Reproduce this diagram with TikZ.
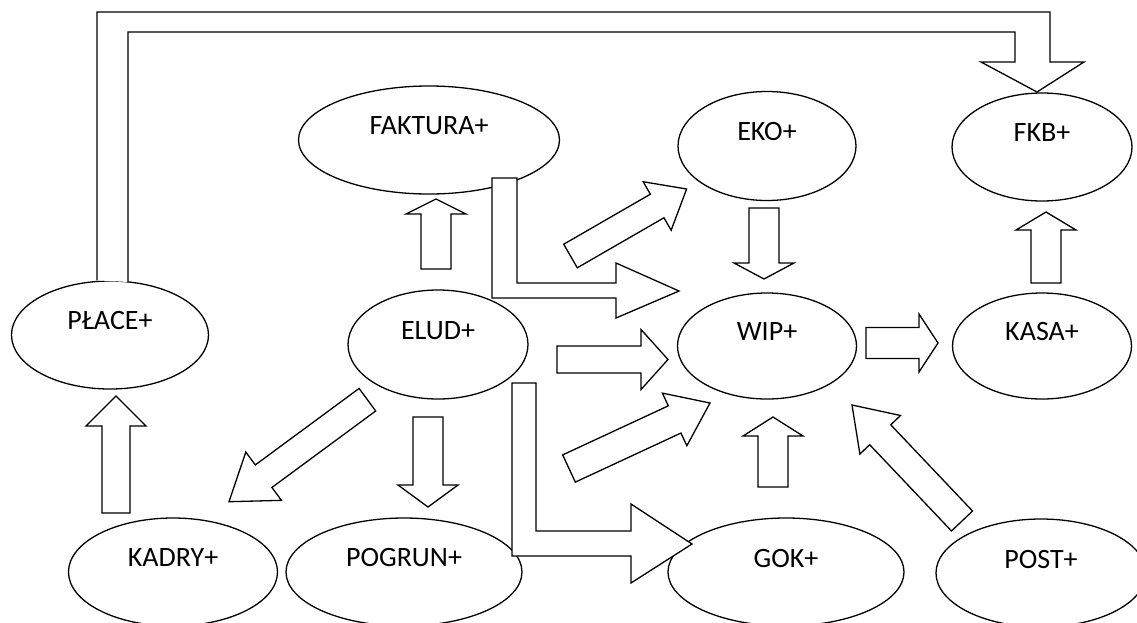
\documentclass[tikz,border=0pt]{standalone}
\usepackage{fontspec}
\setmainfont{Carlito}
\usetikzlibrary{calc,shapes.geometric}

% block arrow: tail, tip, half shaft width, half head width, head length
\newcommand{\blockarrow}[5]{%
  \coordinate (ba-j) at ($(#2)!#5pt!(#1)$);
  \draw[barrow] ($(#1)!#3pt!90:(#2)$) -- ($(ba-j)!#3pt!90:(#2)$)
    -- ($(ba-j)!#4pt!90:(#2)$) -- (#2) -- ($(ba-j)!#4pt!-90:(#2)$)
    -- ($(ba-j)!#3pt!-90:(#2)$) -- ($(#1)!#3pt!-90:(#2)$) -- cycle;
}

\begin{document}
\begin{tikzpicture}[x=1pt,y=-1pt]
	\tikzset{
		oval/.style={ellipse, draw=black, line width=1.3pt, fill=white, inner sep=0pt},
		lbl/.style={font=\fontsize{28}{32}\selectfont, yshift=14pt, inner sep=0pt},
		barrow/.style={draw=black, line width=1.3pt, fill=white, line join=miter}
	}
	\useasboundingbox (0,0) rectangle (1137,622);
	\clip (0,0) rectangle (1137,622);
	
	% ======= Modules =======
	\node[oval, minimum width=261, minimum height=108, label={[lbl]center:FAKTURA+}] (fak) at (429,140) {};
	\node[oval, minimum width=178, minimum height=109, label={[lbl]center:EKO+}] (eko) at (767,146) {};
	\node[oval, minimum width=180, minimum height=108, label={[lbl]center:FKB+}] (fkb) at (1042,147) {};
	\node[oval, minimum width=197, minimum height=108, label={[lbl]center:PŁACE+}] (plc) at (110,335) {};
	\node[oval, minimum width=180, minimum height=109, label={[lbl]center:ELUD+}] (elud) at (438,344.5) {};
	\node[oval, minimum width=179, minimum height=106, label={[lbl]center:WIP+}] (wip) at (767,346) {};
	\node[oval, minimum width=179, minimum height=106, label={[lbl]center:KASA+}] (kasa) at (1042,346) {};
	\node[oval, minimum width=209, minimum height=108, label={[lbl]center:KADRY+}] (kadry) at (173,572) {};
	\node[oval, minimum width=236, minimum height=108, label={[lbl]center:POGRUN+}] (pogrun) at (404,572) {};
	\node[oval, minimum width=236, minimum height=108, label={[lbl]center:GOK+}] (gok) at (786,572) {};
	\node[oval, minimum width=210, minimum height=108, label={[lbl]center:POST+}] (post) at (1041,573) {};
	
	% ======= Arrow ends =======
	\coordinate (s1) at (436,269);    \coordinate (e1) at (436,199);
	\coordinate (s2) at (764,208);    \coordinate (e2) at (764,279);
	\coordinate (s3) at (1046,283);   \coordinate (e3) at (1046,212);
	\coordinate (s4) at (773,487);    \coordinate (e4) at (773,417);
	\coordinate (s5) at (428,417);    \coordinate (e5) at (428,507);
	\coordinate (s6) at (116,513);    \coordinate (e6) at (116,396);
	\coordinate (s7) at (557,359.5);  \coordinate (e7) at (668,359.5);
	\coordinate (s8) at (866,343);    \coordinate (e8) at (938,343);
	\coordinate (s9) at (570.5,256);  \coordinate (e9) at (686.6,189);
	\coordinate (s10) at (569,468.5); \coordinate (e10) at (710,403);
	\coordinate (s11) at (962,521);   \coordinate (e11) at (852,405);
	\coordinate (s12) at (367.4,399.7); \coordinate (e12) at (229,501.7);
	
	% ======= Straight arrows =======
	\blockarrow{s1}{e1}{15}{30}{15}
	\blockarrow{s2}{e2}{15}{30}{16}
	\blockarrow{s3}{e3}{15}{30}{18}
	\blockarrow{s4}{e4}{15}{30}{19}
	\blockarrow{s5}{e5}{15}{30}{22}
	\blockarrow{s6}{e6}{14}{30}{30}
	\blockarrow{s7}{e7}{13.5}{30}{27}
	\blockarrow{s8}{e8}{15.5}{29}{19}
	\blockarrow{s9}{e9}{13.6}{28}{34}
	\blockarrow{s10}{e10}{15}{29}{39}
	\blockarrow{s11}{e11}{14.5}{28}{41}
	\blockarrow{s12}{e12}{14}{30}{43}
	
	% ======= Bent arrows =======
	\coordinate (e13) at (1037,92);
	\draw[barrow] ([xshift=-13pt]plc.north) -- (97,12) -- (1050,12) -- (1050,62) -- (1084,62)
		-- (e13) -- (981,62) -- (1015,62) -- (1015,32) -- (128,32) -- (128,282);
	\coordinate (e14) at (679,291);
	\draw[barrow] (492,178) -- (517,178) -- (517,283) -- (616,283) -- (616,263) -- (e14)
		-- (616,318) -- (616,298) -- (492,298) -- cycle;
	\coordinate (e15) at (692,544);
	\draw[barrow] (512,383) -- (536,383) -- (536,531) -- (631,531) -- (631,504) -- (e15)
		-- (631,583) -- (631,556) -- (512,556) -- cycle;
\end{tikzpicture}
\end{document}
